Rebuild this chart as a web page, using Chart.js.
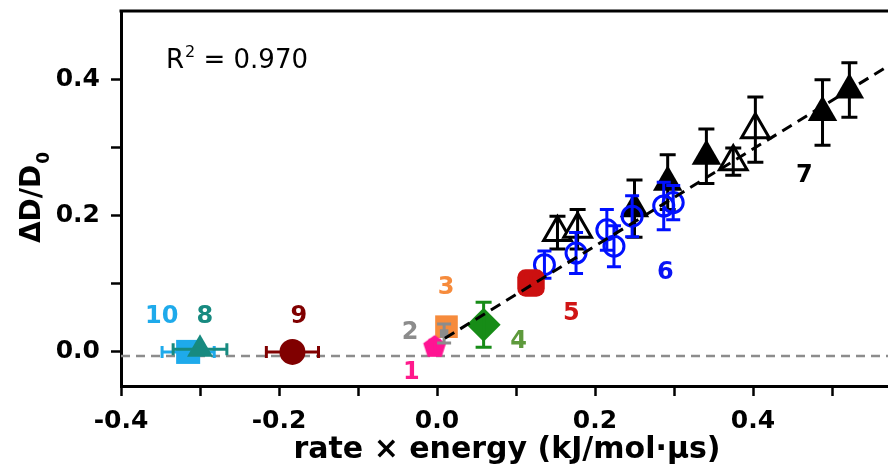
<!DOCTYPE html>
<html><head><meta charset="utf-8">
<script src="https://cdn.jsdelivr.net/npm/chart.js@4.4.1/dist/chart.umd.min.js"></script>
<style>
html,body{margin:0;padding:0;background:#fff;overflow:hidden;}
#wrap{position:relative;width:930px;height:481px;margin-top:-8px;}
</style></head><body>
<div id="wrap"><canvas id="c"></canvas></div>
<script>
// ---------- data ----------
const xTickValues = [-0.4, -0.3, -0.2, -0.1, 0.0, 0.1, 0.2, 0.3, 0.4, 0.5];
const xTickLabels = ['-0.4', '', '-0.2', '', '0.0', '', '0.2', '', '0.4', ''];
const yTickValues = [0.0, 0.1, 0.2, 0.3, 0.4];
const yTickLabels = ['0.0', '', '0.2', '', '0.4'];

const fitX = [0.01, 0.6];
const fitY = [0.020, 0.440];
const zeroX = [-0.4, 0.6];
const zeroY = [-0.006, -0.006];

const g10X = [-0.315], g10Y = [0.0],   g10XErr = [0.033];
const g8X  = [-0.300], g8Y  = [0.004], g8XErr  = [0.034];
const g9X  = [-0.183], g9Y  = [0.0],   g9XErr  = [0.033];
const g1X  = [-0.003], g1Y  = [0.009], g1YErr  = [0.008];
const g2X  = [0.009],  g2Y  = [0.027], g2YErr  = [0.014];
const g3X  = [0.012],  g3Y  = [0.037], g3YErr  = [0.013];
const g4X  = [0.059],  g4Y  = [0.040], g4YErr  = [0.033];
const g5X  = [0.119],  g5Y  = [0.101], g5YErr  = [0.012];
const g6X    = [0.136, 0.176, 0.215, 0.224, 0.247, 0.287, 0.299];
const g6Y    = [0.128, 0.145, 0.179, 0.155, 0.199, 0.214, 0.219];
const g6YErr = [0.020, 0.030, 0.030, 0.030, 0.030, 0.035, 0.025];
const g7OpenX    = [0.1525, 0.178, 0.375, 0.403];
const g7OpenY    = [0.175, 0.180, 0.279, 0.326];
const g7OpenYErr = [0.024, 0.029, 0.020, 0.048];
const g7FillX    = [0.250, 0.292, 0.341, 0.488, 0.522];
const g7FillY    = [0.210, 0.249, 0.287, 0.351, 0.384];
const g7FillYErr = [0.042, 0.040, 0.040, 0.048, 0.040];

const groupLabels = ['10', '8', '9', '2', '3', '1', '4', '5', '6', '7'];
const groupLabelX = [-0.3485, -0.294, -0.175, -0.034, 0.0115, -0.0325, 0.1034, 0.170, 0.289, 0.465];
const groupLabelY = [0.052, 0.052, 0.052, 0.028, 0.094, -0.031, 0.015, 0.056, 0.116, 0.258];
const groupLabelColor = ['#1EAAEB', '#178A80', '#800000', '#8C8C8C', '#F68B3C', '#FF1A8C', '#5E9A3C', '#D01414', '#0A14F5', '#000000'];

const rSquaredText = '0.970';

// ---------- helpers ----------
const FONT = "'DejaVu Sans', sans-serif";
const SHIFT = 8; // canvas is shifted up by this many px
const pts = (xs, ys) => xs.map((x, i) => ({x: x, y: ys[i]}));

function pentagon(r, color) {
  const c = document.createElement('canvas');
  const s = Math.ceil(2 * r + 2);
  c.width = s; c.height = s;
  const g = c.getContext('2d');
  g.fillStyle = color;
  g.beginPath();
  for (let i = 0; i < 5; i++) {
    const a = -Math.PI / 2 + i * 2 * Math.PI / 5;
    const px = s / 2 + r * Math.cos(a), py = s / 2 + r * Math.sin(a) + r * 0.1;
    if (i) g.lineTo(px, py); else g.moveTo(px, py);
  }
  g.closePath(); g.fill();
  return c;
}

const errPlugin = {
  id: 'errbars',
  afterDatasetDraw(chart, args) {
    const ds = chart.data.datasets[args.index];
    if (!ds.errY && !ds.errX) return;
    const xs = chart.scales.x, ys = chart.scales.y, ctx = chart.ctx;
    ctx.save();
    ctx.strokeStyle = ds.errColor || ds.borderColor;
    ctx.lineWidth = 3;
    ctx.lineCap = 'butt';
    const cap = ds.capSize || 8;
    ds.data.forEach((p, i) => {
      const px = xs.getPixelForValue(p.x), py = ys.getPixelForValue(p.y);
      ctx.beginPath();
      if (ds.errY) {
        const e = ds.errY[i];
        const y1 = ys.getPixelForValue(p.y + e), y2 = ys.getPixelForValue(p.y - e);
        ctx.moveTo(px, y1); ctx.lineTo(px, y2);
        ctx.moveTo(px - cap, y1); ctx.lineTo(px + cap, y1);
        ctx.moveTo(px - cap, y2); ctx.lineTo(px + cap, y2);
      }
      if (ds.errX) {
        const e = ds.errX[i];
        const x1 = xs.getPixelForValue(p.x - e), x2 = xs.getPixelForValue(p.x + e);
        ctx.moveTo(x1, py); ctx.lineTo(x2, py);
        ctx.moveTo(x1, py - cap); ctx.lineTo(x1, py + cap);
        ctx.moveTo(x2, py - cap); ctx.lineTo(x2, py + cap);
      }
      ctx.stroke();
    });
    ctx.restore();
  }
};

const decoPlugin = {
  id: 'deco',
  afterDraw(chart) {
    const ctx = chart.ctx, a = chart.chartArea;
    const xs = chart.scales.x, ys = chart.scales.y;
    ctx.save();
    // top frame line
    ctx.strokeStyle = '#000'; ctx.lineWidth = 3;
    ctx.beginPath(); ctx.moveTo(a.left - 1.5, a.top); ctx.lineTo(a.right, a.top); ctx.stroke();

    // group labels
    ctx.font = 'bold 24px ' + FONT;
    ctx.textAlign = 'center'; ctx.textBaseline = 'middle';
    groupLabels.forEach((t, i) => {
      ctx.fillStyle = groupLabelColor[i];
      ctx.fillText(t, xs.getPixelForValue(groupLabelX[i]), ys.getPixelForValue(groupLabelY[i]));
    });

    // R^2 annotation
    ctx.fillStyle = '#000';
    ctx.textAlign = 'left'; ctx.textBaseline = 'alphabetic';
    let x = 166, y = 68 + SHIFT;
    ctx.font = '26px ' + FONT;
    ctx.fillText('R', x, y); x += ctx.measureText('R').width + 1;
    ctx.font = '16px ' + FONT;
    ctx.fillText('2', x, y - 11); x += ctx.measureText('2').width;
    ctx.font = '26px ' + FONT;
    ctx.fillText(' = ' + rSquaredText, x, y);

    // x axis title
    ctx.font = 'bold 30px ' + FONT;
    ctx.textAlign = 'center';
    ctx.fillText('rate \u00d7 energy (kJ/mol\u00b7\u03bcs)', 507, 458 + SHIFT);

    // y axis title (rotated)
    ctx.translate(40, 198 + SHIFT);
    ctx.rotate(-Math.PI / 2);
    ctx.textAlign = 'left';
    ctx.font = 'bold 28px ' + FONT;
    const main = '\u0394D/D';
    const wMain = ctx.measureText(main).width;
    ctx.font = 'bold 17px ' + FONT;
    const wSub = ctx.measureText('0').width;
    const start = -(wMain + wSub) / 2;
    ctx.font = 'bold 28px ' + FONT;
    ctx.fillText(main, start, 0);
    ctx.font = 'bold 17px ' + FONT;
    ctx.fillText('0', start + wMain + 1, 9);
    ctx.restore();
  }
};

// ---------- chart ----------
const tickFont = {family: FONT, size: 25, weight: 'bold'};
new Chart(document.getElementById('c'), {
  type: 'scatter',
  data: {
    datasets: [
      {type: 'line', data: pts(fitX, fitY), borderColor: '#000', borderWidth: 3, borderDash: [11, 7], pointRadius: 0, order: 0},
      {data: pts(g2X, g2Y), pointStyle: 'rect', pointRadius: 6, backgroundColor: '#8C8C8C', borderColor: '#8C8C8C', borderWidth: 0, errY: g2YErr, capSize: 7, order: 1},
      {data: pts(g1X, g1Y), pointStyle: pentagon(12, '#FF1493'), backgroundColor: '#FF1493', borderColor: '#FF1493', errY: g1YErr, capSize: 6, order: 2},
      {data: pts(g3X, g3Y), pointStyle: 'rect', pointRadius: 16, backgroundColor: '#F68B3C', borderColor: '#F68B3C', borderWidth: 0, errY: g3YErr, capSize: 8, order: 3},
      {data: pts(g4X, g4Y), pointStyle: 'rectRot', pointRadius: 17, backgroundColor: '#178C17', borderColor: '#178C17', borderWidth: 0, errY: g4YErr, capSize: 8, order: 4},
      {data: pts(g5X, g5Y), pointStyle: 'rectRounded', pointRadius: 16, backgroundColor: '#CC1010', borderColor: '#CC1010', borderWidth: 0, errY: g5YErr, capSize: 7, order: 5},
      {data: pts(g6X, g6Y), pointStyle: 'circle', pointRadius: 10, backgroundColor: 'rgba(0,0,0,0)', borderColor: '#0010FF', borderWidth: 3, errY: g6YErr, capSize: 7, order: 6},
      {data: pts(g7FillX, g7FillY), pointStyle: 'triangle', pointRadius: 17, backgroundColor: '#000', borderColor: '#000', borderWidth: 0, errY: g7FillYErr, capSize: 8, order: 7},
      {data: pts(g7OpenX, g7OpenY), pointStyle: 'triangle', pointRadius: 16, backgroundColor: '#fff', borderColor: '#000', borderWidth: 3, errY: g7OpenYErr, capSize: 8, order: 8},
      {data: pts(g8X, g8Y), pointStyle: 'triangle', pointRadius: 15, backgroundColor: '#178A80', borderColor: '#178A80', borderWidth: 0, errX: g8XErr, capSize: 6, order: 9},
      {data: pts(g10X, g10Y), pointStyle: 'rect', pointRadius: 17, backgroundColor: '#1EAAEB', borderColor: '#1EAAEB', borderWidth: 0, errX: g10XErr, capSize: 6, order: 10},
      {data: pts(g9X, g9Y), pointStyle: 'circle', pointRadius: 13, backgroundColor: '#800000', borderColor: '#800000', borderWidth: 0, errX: g9XErr, capSize: 6, order: 11},
      {type: 'line', data: pts(zeroX, zeroY), borderColor: '#8C8C8C', borderWidth: 2.5, borderDash: [9, 6], pointRadius: 0, order: 20}
    ]
  },
  options: {
    responsive: true,
    maintainAspectRatio: false,
    animation: false,
    devicePixelRatio: 1,
    layout: {padding: {top: 0, right: 14, left: 0, bottom: 0}},
    plugins: {legend: {display: false}, tooltip: {enabled: false}},
    elements: {point: {hoverRadius: 0}},
    scales: {
      x: {
        type: 'linear', min: -0.4, max: 0.6,
        afterBuildTicks: s => { s.ticks = xTickValues.map(v => ({value: v})); },
        afterFit: s => { s.height = 87; s.paddingLeft = 0; s.paddingRight = 0; s.paddingTop = 0; s.paddingBottom = 0; },
        border: {display: true, color: '#000', width: 3},
        grid: {drawOnChartArea: false, drawTicks: true, tickLength: 10, tickWidth: 2.5, tickColor: '#000'},
        ticks: {
          autoSkip: false, maxRotation: 0, padding: 10, color: '#000', font: tickFont,
          callback: (v) => { const i = xTickValues.findIndex(t => Math.abs(t - v) < 1e-9); return i >= 0 ? xTickLabels[i] : ''; }
        }
      },
      y: {
        type: 'linear', min: -0.05, max: 0.5,
        afterBuildTicks: s => { s.ticks = yTickValues.map(v => ({value: v})); },
        afterFit: s => { s.width = 121; s.paddingLeft = 0; s.paddingRight = 0; s.paddingTop = 0; s.paddingBottom = 0; },
        border: {display: true, color: '#000', width: 3},
        grid: {drawOnChartArea: false, drawTicks: true, tickLength: 10, tickWidth: 2.5, tickColor: '#000'},
        ticks: {
          autoSkip: false, padding: 11, color: '#000', font: tickFont,
          callback: (v) => { const i = yTickValues.findIndex(t => Math.abs(t - v) < 1e-9); return i >= 0 ? yTickLabels[i] : ''; }
        }
      }
    }
  },
  plugins: [errPlugin, decoPlugin]
});
</script>
</body></html>
